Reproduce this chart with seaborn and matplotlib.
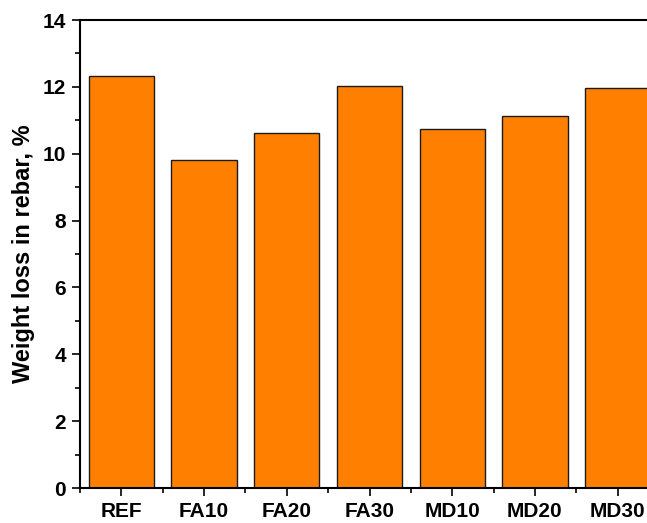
import matplotlib
matplotlib.use("Agg")
import matplotlib.pyplot as plt
from matplotlib.ticker import MultipleLocator
import seaborn as sns
import pandas as pd

mixes = ["REF", "FA10", "FA20", "FA30", "MD10", "MD20", "MD30"]
weight_loss = [12.32, 9.8, 10.63, 12.03, 10.75, 11.12, 11.98]

df = pd.DataFrame({"mix": mixes, "loss": weight_loss})

sns.set_theme(style="ticks")
plt.rcParams["font.family"] = ["Liberation Sans", "DejaVu Sans"]
plt.rcParams["font.weight"] = "bold"
plt.rcParams["text.color"] = "black"
plt.rcParams["axes.labelcolor"] = "black"

fig = plt.figure(figsize=(6.47, 5.23), dpi=100)
ax = fig.add_axes([80 / 647, 35 / 523, 579 / 647, 468 / 523])

sns.barplot(data=df, x="mix", y="loss", color="#FF8000", saturation=1,
            width=0.79, edgecolor="#1a1a1a", linewidth=1.0, ax=ax)

ax.set_xlim(-0.5, 6.5)
ax.set_ylim(0, 14)
ax.yaxis.set_major_locator(MultipleLocator(2))
ax.yaxis.set_minor_locator(MultipleLocator(1))
ax.xaxis.set_minor_locator(MultipleLocator(1, offset=0.5))

for side in ["left", "bottom", "top", "right"]:
    ax.spines[side].set_linewidth(1.5)
    ax.spines[side].set_color("black")

ax.tick_params(which="major", direction="out", length=6, width=1.2,
               labelsize=15, colors="black", top=False, right=False, pad=4)
ax.tick_params(which="minor", direction="out", length=3.5, width=1.2,
               colors="black", top=False, right=False)
for lbl in ax.get_xticklabels() + ax.get_yticklabels():
    lbl.set_fontweight("bold")

ax.set_xlabel("")
ax.set_ylabel("Weight loss in rebar, %", fontsize=17, fontweight="bold",
              color="black")
ax.yaxis.set_label_coords(-0.078, 0.5)

fig.savefig("out.png", dpi=100)
